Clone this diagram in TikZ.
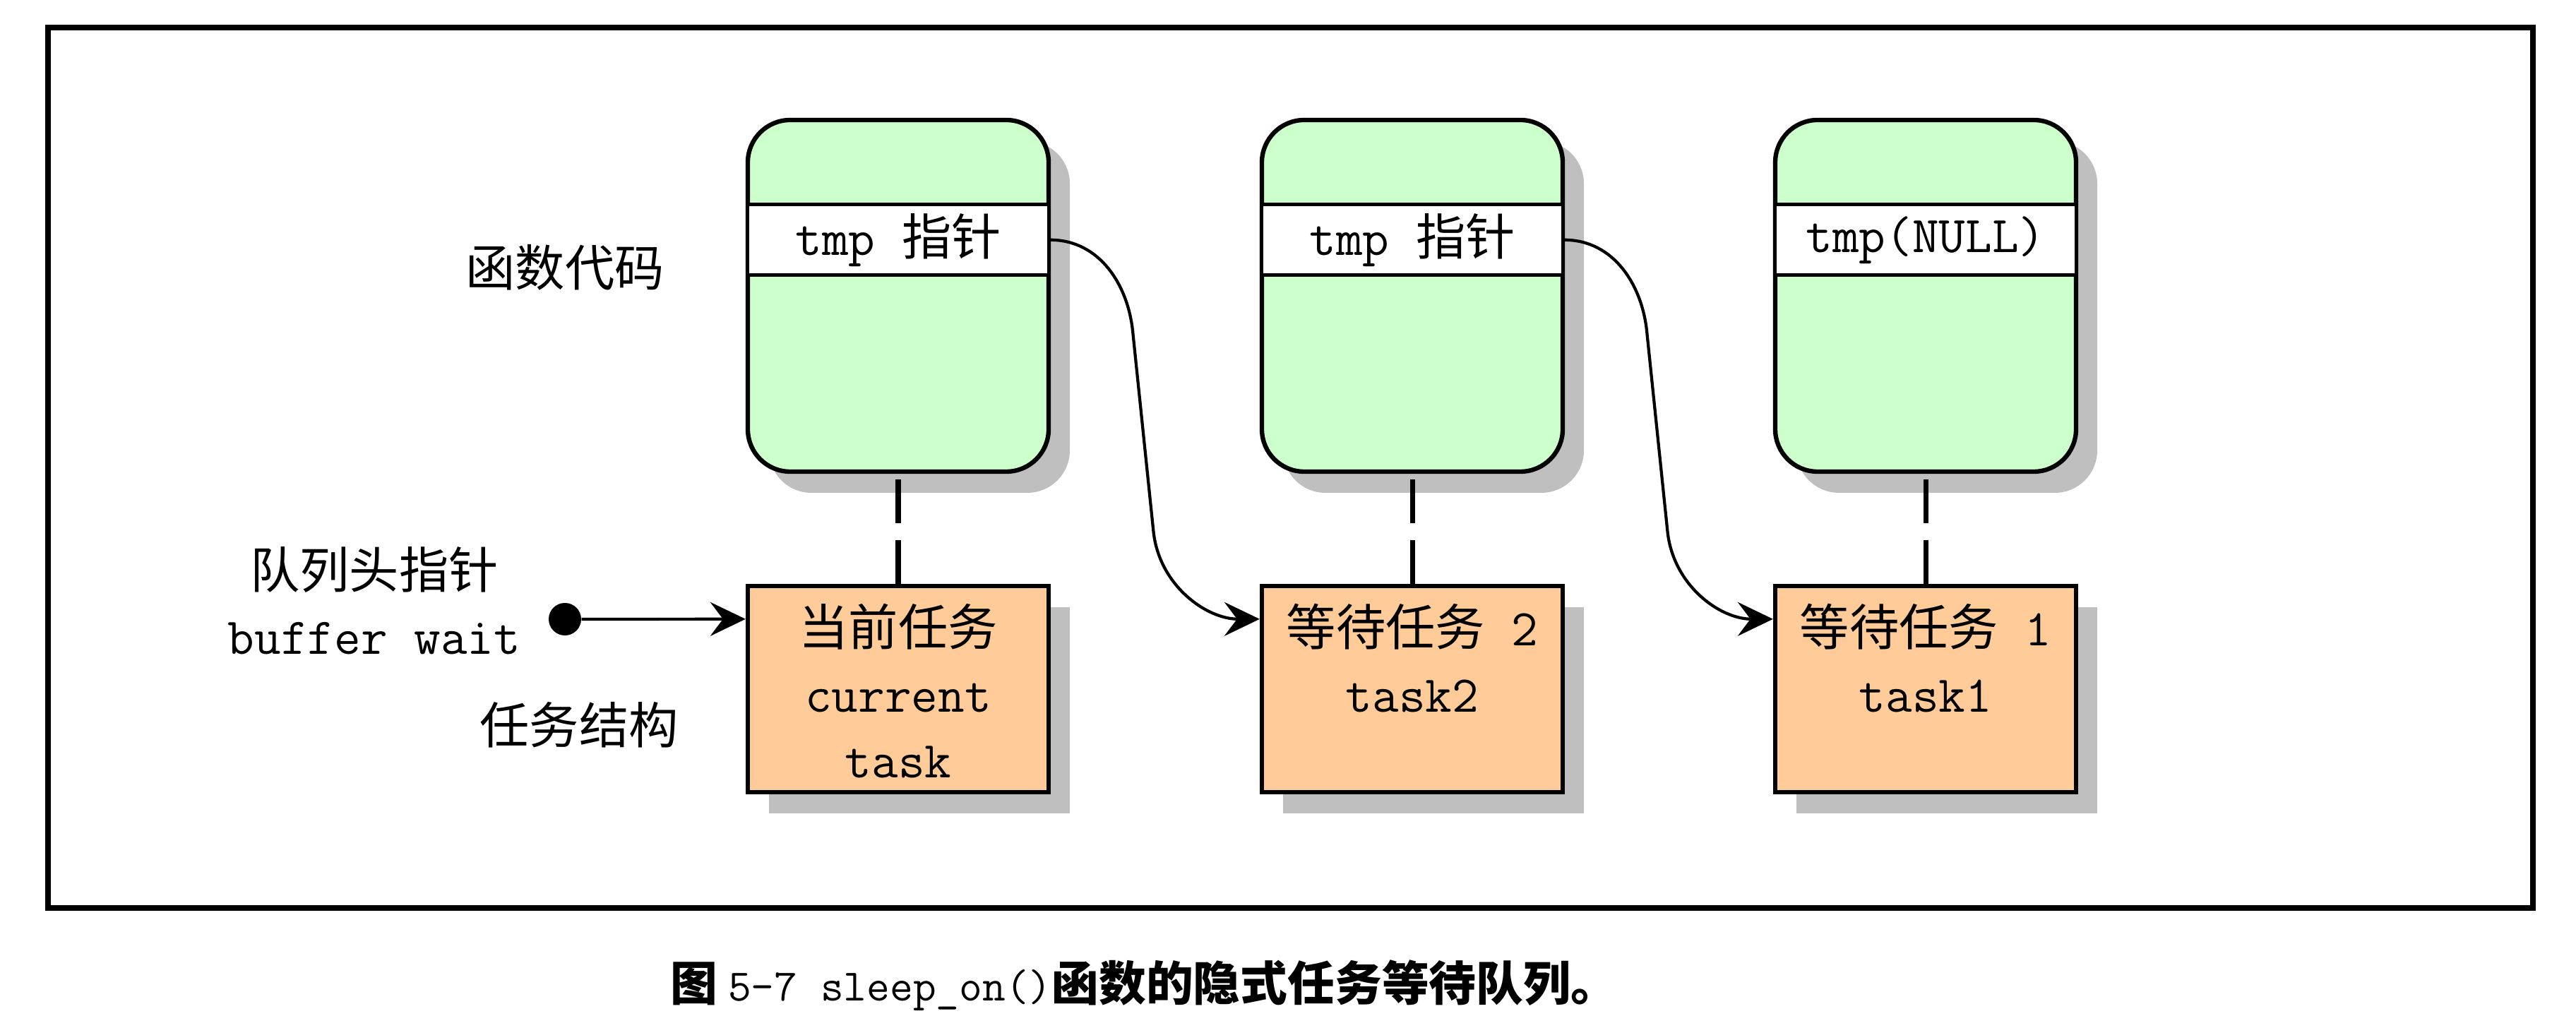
\documentclass[tikz,border=0pt]{standalone}
\usepackage{fontspec}
\setmainfont{Noto Sans CJK SC}
\setmonofont{Latin Modern Mono}[Scale=1.04]
\usepackage{tikz}
\usetikzlibrary{arrows.meta,positioning,shadows}
\definecolor{codegreen}{RGB}{204,255,204}
\definecolor{taskorange}{RGB}{255,204,153}

\begin{document}
\begin{tikzpicture}[
  font=\fontsize{20}{26.5}\selectfont,
  boxshadow/.style={drop shadow={shadow xshift=0.3cm, shadow yshift=-0.3cm, fill=black!25, opacity=1}},
  codebox/.style={draw, line width=1.8pt, rounded corners=0.6cm, fill=codegreen, minimum width=4.26cm, minimum height=4.98cm, boxshadow},
  ptrbox/.style={draw, line width=1.4pt, fill=white, minimum width=4.26cm, minimum height=1cm, inner sep=0pt},
  taskbox/.style={draw, line width=1.8pt, fill=taskorange, minimum width=4.26cm, minimum height=2.92cm, boxshadow},
  tasktext/.style={anchor=north, align=center, inner sep=0pt, yshift=-0.28cm},
  link/.style={line width=2pt, dash pattern=on 0.62cm off 0.24cm},
  ptrarrow/.style={-{Stealth[length=0.5cm, width=0.48cm, inset=0.18cm]}, line width=1.2pt},
  headdot/.style={circle, fill, inner sep=0pt, minimum size=0.46cm}
]
\useasboundingbox (0,0) rectangle (36.48,14.56);

% ================= Frame =================
\draw[line width=2.3pt] (0.68,1.70) rectangle (35.87,14.17);

% ================= Function code (stack) =================
\node[codebox] (code1) at (12.72,10.37) {};
\node[codebox] (code2) at (20.00,10.37) {};
\node[codebox] (code3) at (27.27,10.37) {};

\node[ptrbox] (ptr1) at ([yshift=-1.73cm]code1.north) {{\ttfamily tmp }指针};
\node[ptrbox] (ptr2) at ([yshift=-1.73cm]code2.north) {{\ttfamily tmp }指针};
\node[ptrbox] (ptr3) at ([yshift=-1.73cm]code3.north) {\ttfamily tmp(NULL)};

% ================= Task structures =================
\node[taskbox] (task1) at (12.72,4.80) {};
\node[taskbox] (task2) at (20.00,4.80) {};
\node[taskbox] (task3) at (27.27,4.80) {};

\node[tasktext] (task1txt) at (task1.north) {当前任务\\{\ttfamily current}\\{\ttfamily task}};
\node[tasktext] (task2txt) at (task2.north) {等待任务{\ttfamily\ 2}\\{\ttfamily task2}};
\node[tasktext] (task3txt) at (task3.north) {等待任务{\ttfamily\ 1}\\{\ttfamily task1}};

\foreach \i in {1,2,3}
  \draw[link] (task\i.north) -- (code\i.south);

% ================= Left labels =================
\node (lblcode) at (8.00,10.77) {函数代码};
\node[align=center] (lblhead) at (5.30,6.05) {队列头指针\\{\ttfamily buffer wait}};
\node (lbltask) at (8.20,4.29) {任务结构};

% ================= Queue links =================
\node[headdot] (head) at (8.00,5.79) {};
\draw[ptrarrow] (head) -- ([yshift=-0.5cm]task1.north west);

\foreach \i/\j in {1/2,2/3}
  \draw[ptrarrow] (ptr\i.east) to[out=0,in=95] ++(1.17,-1.33) -- ++(0.29,-2.8)
    to[out=-84,in=180] ([yshift=-0.5cm]task\j.north west);

% ================= Caption =================
\node (caption) at (16.20,0.60)
  {\fontsize{19}{23}\selectfont\bfseries 图 {\mdseries\ttfamily\fontsize{17.4}{23}\selectfont 5-7 sleep\_on()}函数的隐式任务等待队列。};

\end{tikzpicture}
\end{document}
